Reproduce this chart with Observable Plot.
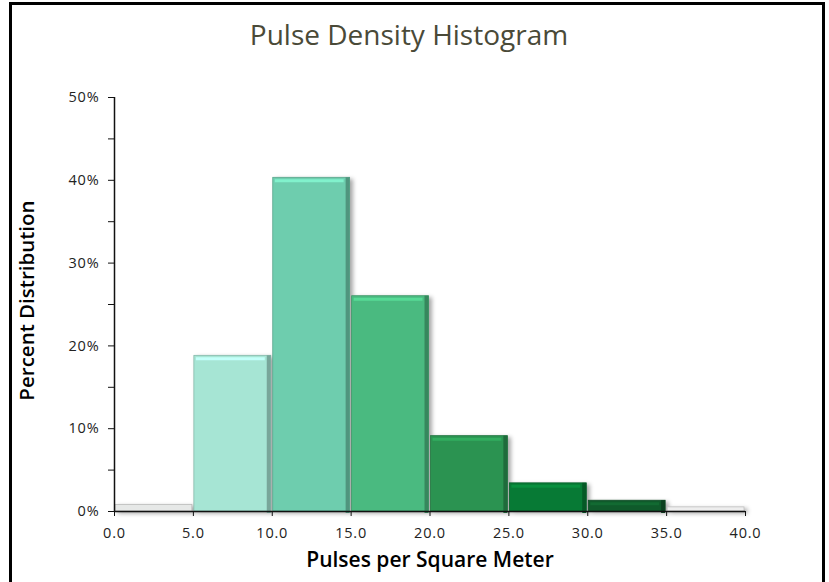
<!DOCTYPE html>
<html><head><meta charset="utf-8">
<script src="https://cdn.jsdelivr.net/npm/d3@7"></script>
<script src="https://cdn.jsdelivr.net/npm/@observablehq/plot@0.6"></script>
<style>
html,body{margin:0;padding:0;background:#fff;}
#wrap{position:relative;width:829px;height:582px;overflow:hidden;}
#frame{position:absolute;left:9px;top:2px;width:816px;height:582px;border:3px solid #000;border-bottom:2px solid #888;box-sizing:border-box;pointer-events:none;}
#chart{position:absolute;left:0;top:0;}
</style></head><body>
<div id="wrap"><div id="chart"></div><div id="frame"></div></div>
<script>
const binStart = [0, 5, 10, 15, 20, 25, 30, 35];
const binEnd   = [5, 10, 15, 20, 25, 30, 35, 40];
const percent  = [0.008, 0.188, 0.403, 0.260, 0.091, 0.034, 0.013, 0.005];
const barColors = ["#e6e8e7", "#a6e5d4", "#6ecdae", "#4aba80", "#2b9351", "#077a35", "#0f5a2b", "#eeeeee"];
const xTicks = [0, 5, 10, 15, 20, 25, 30, 35, 40];
const yTicks = [0, 0.05, 0.1, 0.15, 0.2, 0.25, 0.3, 0.35, 0.4, 0.45, 0.5];
const yTickLabels = ["0%", "", "10%", "", "20%", "", "30%", "", "40%", "", "50%"];
const title = "Pulse Density Histogram";
const xLabel = "Pulses per Square Meter";
const yLabel = "Percent Distribution";

const bins = binStart.map((s, i) => ({x1: s, x2: binEnd[i], y: percent[i], c: barColors[i]}));
const colored = bins.filter(d => d.y > 0.01);

const plot = Plot.plot({
  width: 829,
  height: 582,
  marginLeft: 114,
  marginRight: 84,
  marginTop: 97,
  marginBottom: 71,
  style: {fontFamily: "'Open Sans', sans-serif", fontSize: "15px", color: "#222", background: "transparent"},
  x: {domain: [0, 40]},
  y: {domain: [0, 0.5]},
  color: {type: "identity"},
  marks: [
    Plot.rectY(bins, {x1: "x1", x2: "x2", y: "y", fill: "c", insetLeft: 1, insetRight: 1,
      stroke: d => d3.color(d.c).darker(0.6).formatHex(), strokeWidth: 0.8}),
    Plot.ruleX(colored, {x: "x2", y1: d => 0, y2: "y", dx: -3.5, strokeWidth: 4,
      stroke: d => d3.color(d.c).darker(0.9).formatHex(), insetTop: 2}),
    Plot.ruleY(colored, {y: "y", x1: "x1", x2: "x2", dy: 3, strokeWidth: 3, insetLeft: 3, insetRight: 7,
      stroke: d => d3.color(d.c).brighter(0.45).formatHex()}),
    Plot.ruleY([0], {stroke: "#111", strokeWidth: 1.5}),
    Plot.ruleX([0], {stroke: "#111", strokeWidth: 1.5}),
    Plot.axisX({ticks: xTicks, tickFormat: d3.format(".1f"), tickSize: 5, tickPadding: 11, label: null, stroke: "#111", fontSize: 14.5}),
    Plot.axisY({ticks: yTicks, tickFormat: (d, i) => yTickLabels[i], tickSize: 6, tickPadding: 9, label: null, stroke: "#111", fontSize: 14.5}),
    Plot.text([title], {frameAnchor: "top", textAnchor: "middle", dx: -21, dy: -72, fontSize: 28, fill: "#4a4a38", fontWeight: 400}),
    Plot.text([yLabel], {frameAnchor: "left", textAnchor: "middle", dx: -87, dy: -4, rotate: -90, fontSize: 20.5, fontWeight: 600, fill: "#000"}),
    Plot.text([xLabel], {frameAnchor: "bottom", textAnchor: "middle", dy: 55, fontSize: 21, fontWeight: 600, fill: "#000"})
  ]
});
document.getElementById("chart").appendChild(plot);
const rects = plot.querySelector("g[aria-label='rect']");
if (rects) rects.style.filter = "drop-shadow(3px 2px 2px rgba(0,0,0,0.35))";
plot.querySelectorAll("g[aria-label$='tick label'] text").forEach(t => {
  t.style.fontSize = "14.5px";
  t.style.letterSpacing = "0.8px";
  t.style.fill = "#222";
});
</script>
</body></html>
